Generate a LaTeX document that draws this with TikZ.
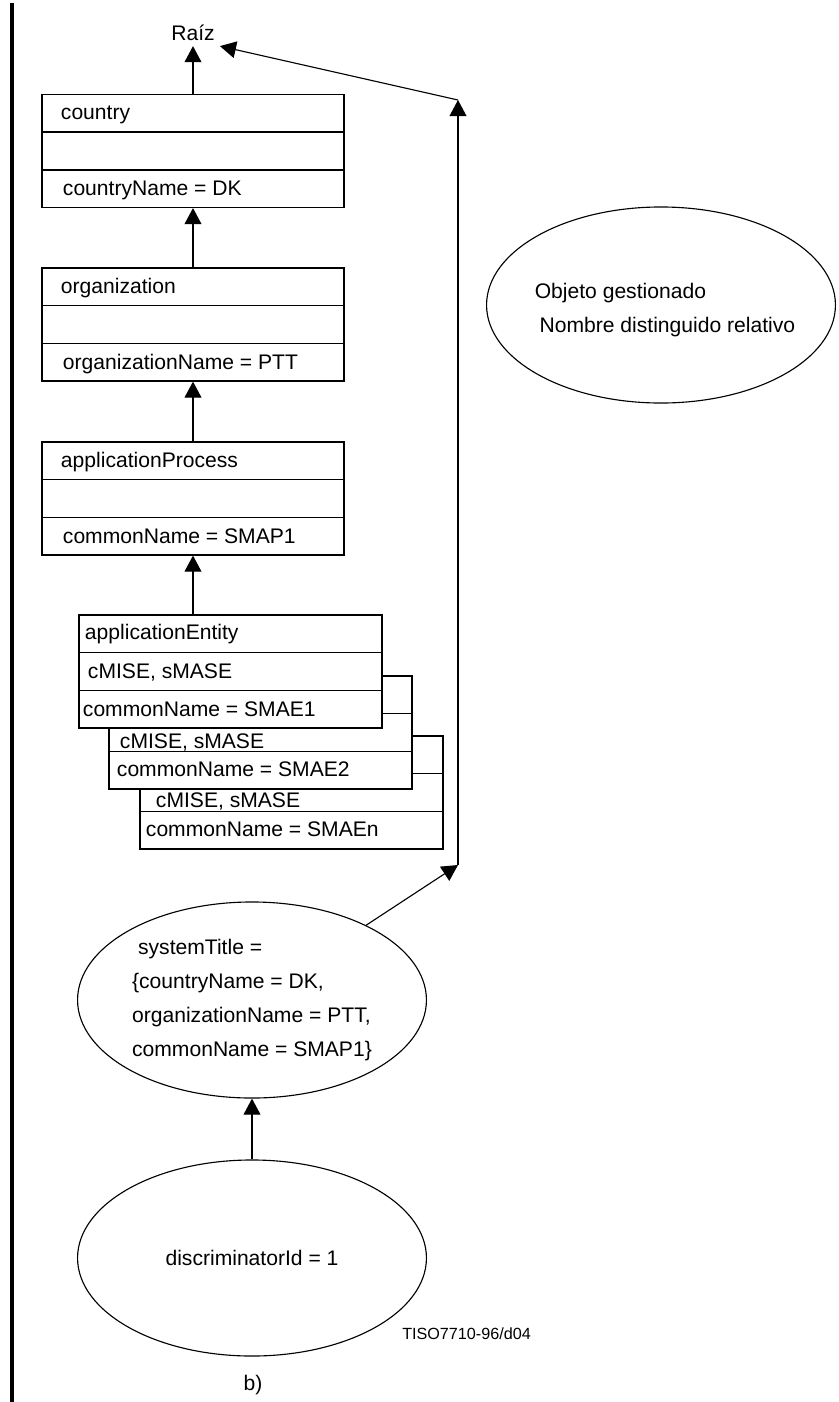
\documentclass[tikz,border=0pt]{standalone}
\usepackage{fontspec}
\setmainfont{Liberation Sans}
\usetikzlibrary{arrows.meta,calc,shapes.geometric}

\tikzset{
	arr/.style={-{Triangle[length=0.4cm,width=0.42cm]}},
	classbox/.style={draw, fill=white, minimum width=7.55cm, minimum height=2.825cm, inner sep=0pt},
	rowtxt/.style={anchor=west, inner sep=0pt, text height=11pt, text depth=1pt},
	mo/.style={draw, ellipse, minimum width=8.72cm, minimum height=4.9cm, inner sep=0pt, align=left},
}

\begin{document}
\begin{tikzpicture}[x=0.025cm, y=-0.025cm, line width=0.8pt, font=\fontsize{15}{24}\selectfont]
	\useasboundingbox (0,0) rectangle (839,1402);
	\draw[line width=0.1cm] (12,3) -- (12,1402);
	
	\node (raiz) at (193,33) {Raíz};
	
	% upper classes
	\foreach \nm/\y/\a/\b in {cty/151/country/countryName = DK, org/324.5/organization/organizationName = PTT, ap/498.5/applicationProcess/commonName = SMAP1}{
		\node[classbox] (\nm) at (193,\y) {};
		\draw ($(\nm.north west)!1/3!(\nm.south west)$) -- ($(\nm.north east)!1/3!(\nm.south east)$);
		\draw ($(\nm.north west)!2/3!(\nm.south west)$) -- ($(\nm.north east)!2/3!(\nm.south east)$);
		\node[rowtxt] (\nm-a) at ($(\nm.north west)+(19,19)$) {\a};
		\node[rowtxt] (\nm-b) at ($(\nm.north west)+(21,95)$) {\b};
	}
	
	% application entities, back to front
	\node[classbox, minimum width=7.575cm] (ae3) at (291.5,792.5) {};
	\draw ($(ae3.north west)!1/3!(ae3.south west)$) -- ($(ae3.north east)!1/3!(ae3.south east)$);
	\draw ($(ae3.north west)!2/3!(ae3.south west)$) -- ($(ae3.north east)!2/3!(ae3.south east)$);
	\node[rowtxt] (ae3-b) at ($(ae3.north west)+(16,65)$) {cMISE, sMASE};
	\node[rowtxt] (ae3-c) at ($(ae3.north west)+(6,94)$) {commonName = SMAEn};
	
	\node[classbox, minimum width=7.575cm] (ae2) at (260.5,732.5) {};
	\draw ($(ae2.north west)!1/3!(ae2.south west)$) -- ($(ae2.north east)!1/3!(ae2.south east)$);
	\draw ($(ae2.north west)!2/3!(ae2.south west)$) -- ($(ae2.north east)!2/3!(ae2.south east)$);
	\node[rowtxt] (ae2-b) at ($(ae2.north west)+(11,66)$) {cMISE, sMASE};
	\node[rowtxt] (ae2-c) at ($(ae2.north west)+(8,94)$) {commonName = SMAE2};
	
	\node[classbox, minimum width=7.575cm] (ae1) at (230.5,671.5) {};
	\draw ($(ae1.north west)!1/3!(ae1.south west)$) -- ($(ae1.north east)!1/3!(ae1.south east)$);
	\draw ($(ae1.north west)!2/3!(ae1.south west)$) -- ($(ae1.north east)!2/3!(ae1.south east)$);
	\node[rowtxt] (ae1-a) at ($(ae1.north west)+(6,18)$) {applicationEntity};
	\node[rowtxt] (ae1-b) at ($(ae1.north west)+(9,57)$) {cMISE, sMASE};
	\node[rowtxt] (ae1-c) at ($(ae1.north west)+(4,95)$) {commonName = SMAE1};
	
	\draw[arr] (cty.north) -- (raiz.south);
	\draw[arr] (org.north) -- (cty.south);
	\draw[arr] (ap.north) -- (org.south);
	\draw[arr] (ap.south |- ae1.north) -- (ap.south);
	
	% names
	\node[mo] (og) at (661,305) {};
	\node[align=left] (og-t) at (665,310) {Objeto gestionado\\\hspace*{0.12cm}Nombre distinguido relativo};
	\node[mo] (st) at (252,1000) {\hspace*{0.15cm}systemTitle =\\\{countryName = DK,\\organizationName = PTT,\\commonName = SMAP1\}};
	\node[mo] (disc) at (252,1258) {discriminatorId = 1};
	
	\coordinate (c1) at (458,865);
	\coordinate (c2) at (458,100);
	\draw[arr] (disc) -- (st);
	\draw[arr] (st) -- (c1);
	\draw[arr] (c1) -- (c2);
	\draw[arr] (c2) -- (raiz.south east);
	
	\node[anchor=west, font=\fontsize{11.5}{14}\selectfont] (tiso) at (397,1334) {TISO7710-96/d04};
	\node (lbl) at (253,1385) {b)};
\end{tikzpicture}
\end{document}
